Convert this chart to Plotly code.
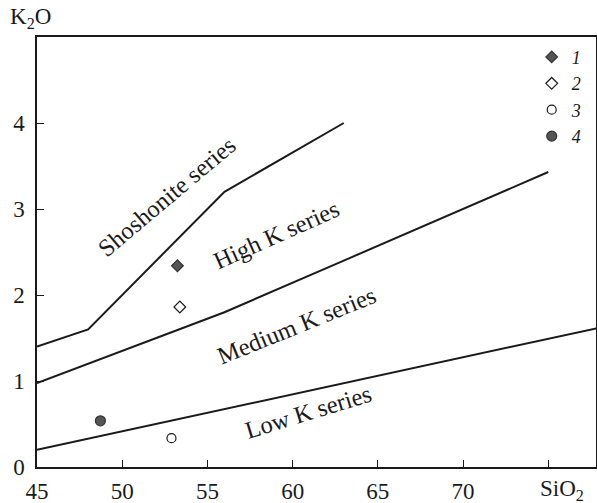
import plotly.graph_objects as go

# Boundary lines (SiO2, K2O)
sho_x = [45, 48, 56, 63]
sho_y = [1.4, 1.6, 3.2, 4.0]
hk_x = [45, 48, 52, 56, 63, 70, 75]
hk_y = [0.975, 1.2, 1.5, 1.8, 2.4, 3.0, 3.43]
lk_x = [45, 78]
lk_y = [0.2, 1.62]

# Samples
s_names = ["1", "2", "3", "4"]
s_x = [53.24, 53.38, 52.89, 48.72]
s_y = [2.34, 1.86, 0.335, 0.537]
s_sym = ["diamond", "diamond-open", "circle-open", "circle"]
s_size = [9, 9, 9, 10]

# Field labels
lab_text = ["Shoshonite series", "High K series", "Medium K series", "Low K series"]
lab_x = [52.6, 59.05, 60.2, 60.95]
lab_y = [3.15, 2.7, 1.65, 0.64]
lab_ang = [-40, -24, -22, -17]

x_ticks = [45, 50, 55, 60, 65, 70, 75]
x_ticktext = ["45", "50", "55", "60", "65", "70", ""]
y_ticks = [0, 1, 2, 3, 4]

FONT = "Liberation Serif"
INK = "#1a1a1a"

fig = go.Figure()
for xs, ys in [(sho_x, sho_y), (hk_x, hk_y), (lk_x, lk_y)]:
    fig.add_trace(go.Scatter(x=xs, y=ys, mode="lines", line=dict(color=INK, width=2),
                             showlegend=False, hoverinfo="skip"))

for i in range(4):
    filled = not s_sym[i].endswith("open")
    fig.add_trace(go.Scatter(
        x=[s_x[i]], y=[s_y[i]], mode="markers", name=s_names[i],
        marker=dict(symbol=s_sym[i], size=s_size[i],
                    color="#555555" if filled else INK,
                    line=dict(color="#333333", width=1.2))))

for t, x, y, a in zip(lab_text, lab_x, lab_y, lab_ang):
    fig.add_annotation(x=x, y=y, text=t, textangle=a, showarrow=False,
                       font=dict(family=FONT, size=24.5, color=INK))

fig.add_annotation(xref="paper", yref="paper", x=-0.011, y=1.044, text="K<sub>2</sub>O",
                   showarrow=False, xanchor="center", yanchor="middle",
                   font=dict(family=FONT, size=23, color=INK))
fig.add_annotation(xref="paper", yref="paper", x=0.939, y=-0.053, text="SiO<sub>2</sub>",
                   showarrow=False, xanchor="center", yanchor="middle",
                   font=dict(family=FONT, size=23, color=INK))

fig.update_layout(
    width=597, height=503,
    margin=dict(l=37, r=1, t=37, b=36),
    paper_bgcolor="white", plot_bgcolor="white",
    font=dict(family=FONT, size=23, color=INK),
    legend=dict(x=0.885, y=0.996, xanchor="left", yanchor="top",
                font=dict(family=FONT, size=18, color=INK, style="italic"),
                bgcolor="rgba(0,0,0,0)", tracegroupgap=0),
    xaxis=dict(range=[45, 77.8], tickvals=x_ticks, ticktext=x_ticktext,
               ticks="inside", ticklen=7, automargin=False,
               tickcolor=INK, showline=True, linecolor=INK, linewidth=1.5, mirror=True,
               showgrid=False, zeroline=False, ticklabelstandoff=3),
    yaxis=dict(range=[0, 5], tickvals=y_ticks, ticks="inside", ticklen=7, automargin=False,
               tickcolor=INK, showline=True, linecolor=INK, linewidth=1.5, mirror=True,
               showgrid=False, zeroline=False, ticklabelstandoff=6),
)

post = ("document.body.style.margin='0';document.body.style.padding='0';"
        "document.body.style.overflow='hidden';"
        "Plotly.relayout('{plot_id}', {width: 597, height: 503});")
fig.write_html("out.html", post_script=post, config={"displayModeBar": False})
